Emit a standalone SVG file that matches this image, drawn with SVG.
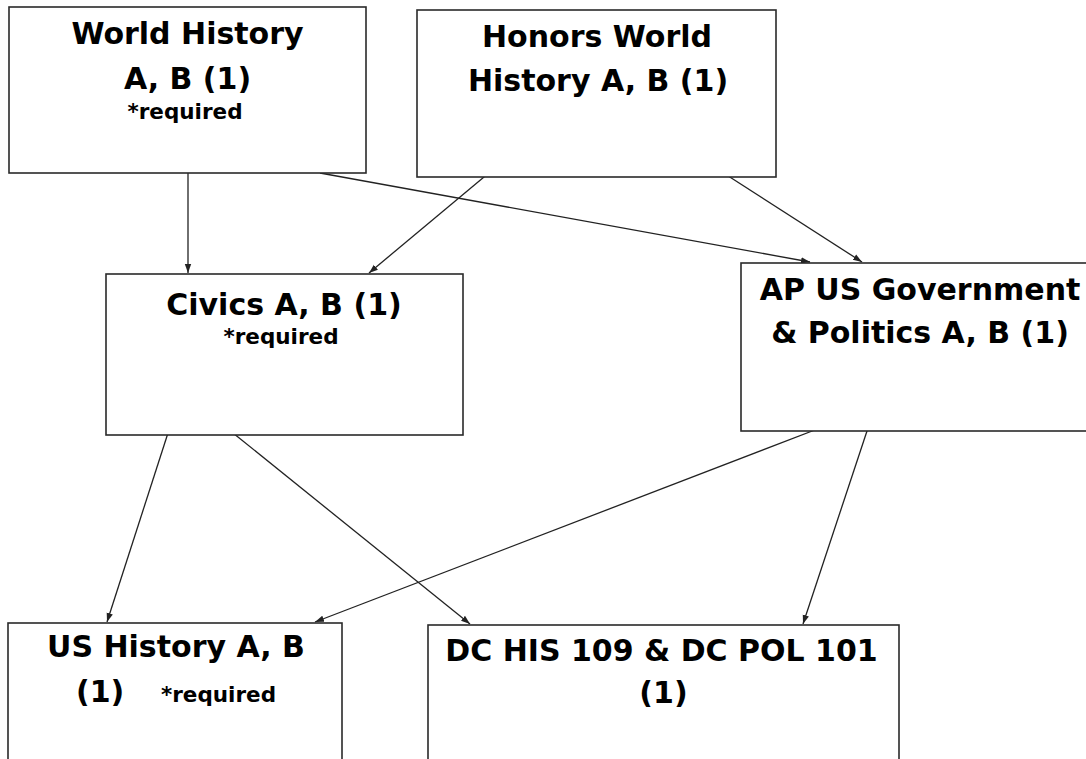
<svg xmlns="http://www.w3.org/2000/svg" width="1086" height="759" viewBox="0 0 1086 759">
<style>
.box{fill:#ffffff;stroke:#2a2a2a;stroke-width:1.6}
.t{font-family:"DejaVu Sans","Liberation Sans",sans-serif;font-weight:bold;font-size:30px;fill:#000;text-anchor:middle}
.s{font-family:"DejaVu Sans","Liberation Sans",sans-serif;font-weight:bold;font-size:21.5px;fill:#000;text-anchor:middle}
.c{fill:none;stroke:#222;stroke-width:1.3;marker-end:url(#ah)}
</style>
<defs>
<marker id="ah" markerUnits="userSpaceOnUse" markerWidth="10" markerHeight="8" refX="9" refY="4" orient="auto">
<path d="M0,0.8 L9,4 L0,7.2 Z" fill="#222"/>
</marker>
</defs>
<rect width="1086" height="759" fill="#ffffff"/>
<g id="connectors">
<line class="c" x1="188" y1="173" x2="188" y2="273"/>
<line class="c" x1="320" y1="173" x2="810" y2="262"/>
<line class="c" x1="490" y1="172" x2="369" y2="273"/>
<line class="c" x1="722" y1="172" x2="862" y2="262"/>
<line class="c" x1="168" y1="433" x2="107" y2="622"/>
<line class="c" x1="233" y1="433" x2="470" y2="624"/>
<line class="c" x1="820" y1="428" x2="315" y2="622"/>
<line class="c" x1="868" y1="428" x2="803" y2="624"/>
</g>
<g id="world-history">
<rect class="box" x="9" y="7" width="357" height="166"/>
<text class="t" x="187.5" y="44">World History</text>
<text class="t" x="187.5" y="89">A, B (1)</text>
<text class="s" x="185" y="119">*required</text>
</g>
<g id="honors-world-history">
<rect class="box" x="417" y="10" width="359" height="167"/>
<text class="t" x="597" y="47">Honors World</text>
<text class="t" x="598" y="91">History A, B (1)</text>
</g>
<g id="civics">
<rect class="box" x="106" y="274" width="357" height="161"/>
<text class="t" x="284" y="315">Civics A, B (1)</text>
<text class="s" x="281" y="344">*required</text>
</g>
<g id="ap-us-government">
<rect class="box" x="741" y="263" width="360" height="168"/>
<text class="t" x="920" y="300">AP US Government</text>
<text class="t" x="920" y="343">&amp; Politics A, B (1)</text>
</g>
<g id="us-history">
<rect class="box" x="8" y="623" width="334" height="150"/>
<text class="t" x="176" y="657">US History A, B</text>
<text class="t" x="76" y="702" style="text-anchor:start">(1)</text>
<text class="s" x="161" y="702" style="text-anchor:start">*required</text>
</g>
<g id="dc-his-pol">
<rect class="box" x="428" y="625" width="471" height="150"/>
<text class="t" x="661.5" y="661">DC HIS 109 &amp; DC POL 101</text>
<text class="t" x="663.5" y="703">(1)</text>
</g>
</svg>
